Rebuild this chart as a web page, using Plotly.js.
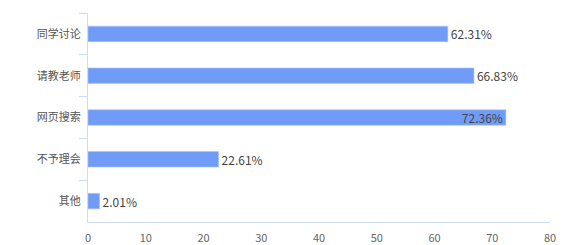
<!DOCTYPE html>
<html>
<head>
<meta charset="utf-8">
<script src="https://cdn.plot.ly/plotly-3.0.1.min.js"></script>
<style>html,body{margin:0;padding:0;background:#fff;}#chart{width:566px;height:245px;}</style>
</head>
<body>
<div id="chart"></div>
<script>
const categories = ['同学讨论', '请教老师', '网页搜索', '不予理会', '其他'];
const values = [62.31, 66.83, 72.36, 22.61, 2.01];
const valueLabels = ['62.31%', '66.83%', '72.36%', '22.61%', '2.01%'];
const labelPositions = ['outside', 'outside', 'inside', 'outside', 'outside'];

const font = '"Noto Sans CJK SC", "Noto Sans", sans-serif';
const axisColor = '#cddcee';

Plotly.newPlot('chart', [{
  type: 'bar',
  orientation: 'h',
  y: categories,
  x: values,
  text: valueLabels,
  textposition: labelPositions,
  insidetextanchor: 'end',
  constraintext: 'none',
  textfont: {family: font, size: 12, color: '#444'},
  insidetextfont: {family: font, size: 12, color: '#444'},
  outsidetextfont: {family: font, size: 12, color: '#444'},
  cliponaxis: false,
  marker: {color: '#709cf7', line: {color: '#a9c4fa', width: 0.6}},
  width: 0.37,
  hoverinfo: 'none'
}], {
  width: 566, height: 245,
  margin: {l: 88, r: 16, t: 13, b: 23, pad: 0},
  paper_bgcolor: '#fff', plot_bgcolor: '#fff',
  showlegend: false,
  bargap: 0.63,
  xaxis: {
    range: [0, 80], dtick: 10, tick0: 0,
    showgrid: false, zeroline: false,
    showline: true, linecolor: axisColor, linewidth: 1,
    ticks: '', ticklabelstandoff: 6,
    tickfont: {family: font, size: 11, color: '#666'}
  },
  yaxis: {
    autorange: 'reversed',
    type: 'category',
    showgrid: false, zeroline: false,
    showline: true, linecolor: axisColor, linewidth: 1,
    ticks: 'outside', tickson: 'boundaries', ticklen: 8, tickcolor: axisColor, tickwidth: 1,
    ticklabelstandoff: 4,
    tickfont: {family: font, size: 11, color: '#555'}
  },
  font: {family: font}
}, {staticPlot: true, displayModeBar: false});
</script>
</body>
</html>
